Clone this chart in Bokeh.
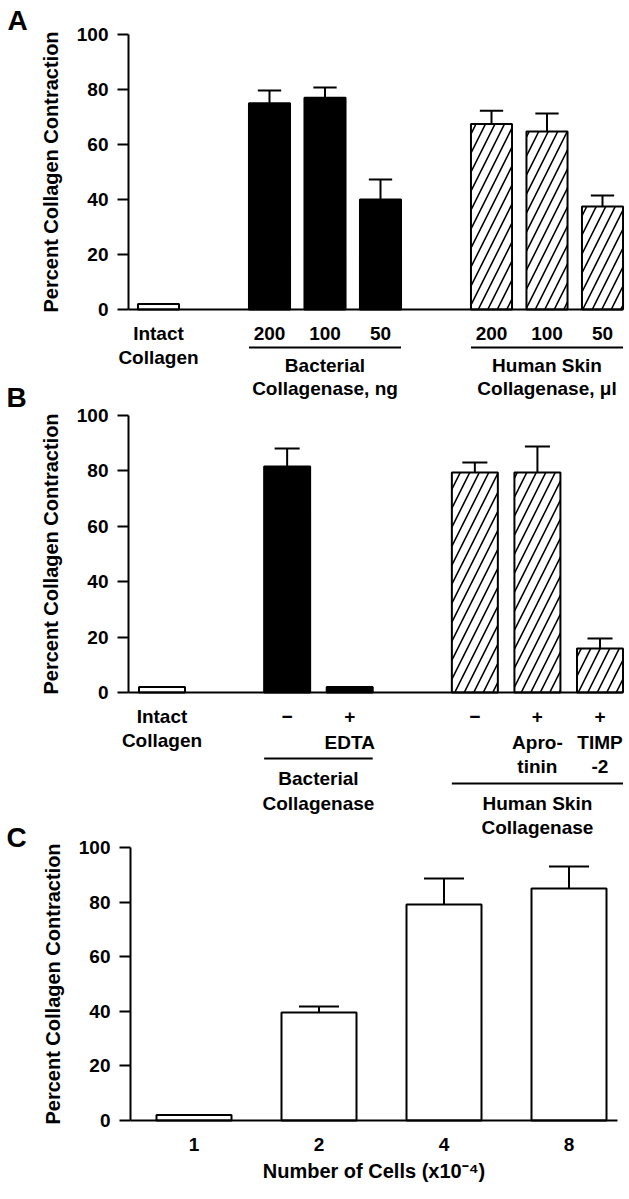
from bokeh.plotting import figure
from bokeh.layouts import column
from bokeh.models import Range1d, FixedTicker, Label, Arrow
from bokeh.embed import file_html
from bokeh.resources import INLINE

# ---------------- data ----------------
# Panel A
a_pos = [0, 2, 3, 4, 6, 7, 8]
a_ticklabels = ["Intact", "200", "100", "50", "200", "100", "50"]
a_values = [2, 75.0, 77.0, 40.0, 67.5, 64.7, 37.5]
a_errors = [0, 4.6, 3.7, 7.3, 4.8, 6.6, 4.0]
a_kind = ["open", "solid", "solid", "solid", "hatch", "hatch", "hatch"]

# Panel B
b_pos = [0, 2, 3, 5, 6, 7]
b_ticklabels = ["Intact", "\u2212", "+", "\u2212", "+", "+"]
b_values = [2, 81.6, 2, 79.4, 79.4, 15.9]
b_errors = [0, 6.5, 0, 3.6, 9.4, 3.6]
b_kind = ["open", "solid", "solid", "hatch", "hatch", "hatch"]

# Panel C
c_pos = [0, 1, 2, 3]
c_ticklabels = ["1", "2", "4", "8"]
c_values = [2, 39.6, 79.1, 85.0]
c_errors = [0, 2.2, 9.5, 8.0]
c_kind = ["open", "open", "open", "open"]

y_ticks = [0, 20, 40, 60, 80, 100]
y_title = "Percent Collagen Contraction"
c_xtitle = "Number of Cells (x10\u207b\u2074)"

FONT = "Liberation Sans"
W = 629


class Panel:
    """Page-pixel layout of one panel; maps page pixels to data units."""

    def __init__(self, fig_top, fig_bot, c0, dx, zero_py, top_py, axis_left, axis_right):
        self.fig_top, self.fig_bot = fig_top, fig_bot
        self.c0, self.dx = c0, dx
        self.zero_py = zero_py
        self.sy = (zero_py - top_py) / 100.0
        self.axis_left, self.axis_right = axis_left, axis_right

    def xd(self, px):
        return (px - self.c0) / self.dx

    def yd(self, py):
        return (self.zero_py - py) / self.sy


def make_panel(L, pos, ticklabels, values, errors, kind, barw, capw,
               tick_standoff, transparent, xtitle=None):
    p = figure(width=W, height=L.fig_bot - L.fig_top, output_backend="svg",
               toolbar_location=None, title=None,
               x_range=Range1d(L.xd(0), L.xd(W)),
               y_range=Range1d(L.yd(L.fig_bot), L.yd(L.fig_top)),
               min_border=0, min_border_left=0, min_border_right=0,
               min_border_top=0, min_border_bottom=0)
    p.outline_line_color = None
    p.grid.grid_line_color = None
    if transparent:
        p.background_fill_alpha = 0
        p.border_fill_alpha = 0

    # bars
    for k, fill, hatch in (("open", "white", None), ("solid", "black", None), ("hatch", "white", "/")):
        xs = [x for x, kk in zip(pos, kind) if kk == k]
        ys = [v for v, kk in zip(values, kind) if kk == k]
        if not xs:
            continue
        kw = {}
        if hatch:
            kw = dict(hatch_pattern=hatch, hatch_color="black", hatch_scale=19, hatch_weight=1.6)
        p.vbar(x=xs, top=ys, bottom=0, width=barw, fill_color=fill,
               line_color="black", line_width=2, **kw)

    # error bars (upper only)
    ex = [x for x, e in zip(pos, errors) if e > 0]
    ev = [v for v, e in zip(values, errors) if e > 0]
    ee = [v + e for v, e in zip(values, errors) if e > 0]
    p.segment(x0=ex, y0=ev, x1=ex, y1=ee, line_color="black", line_width=2)
    p.segment(x0=[x - capw / 2 for x in ex], y0=ee, x1=[x + capw / 2 for x in ex], y1=ee,
              line_color="black", line_width=2)

    # y axis (drawn at the left end of the baseline)
    ya = p.yaxis[0]
    ya.fixed_location = L.xd(L.axis_left)
    ya.bounds = (0, 100)
    ya.ticker = FixedTicker(ticks=y_ticks)
    ya.minor_tick_line_color = None
    ya.major_tick_in = 0
    ya.major_tick_out = 11
    ya.major_tick_line_width = 2
    ya.axis_line_width = 2
    ya.major_label_standoff = 9
    ya.major_label_text_font = FONT
    ya.major_label_text_font_style = "bold"
    ya.major_label_text_font_size = "19px"
    ya.major_label_text_color = "black"
    ya.axis_label = y_title
    ya.axis_label_text_font = FONT
    ya.axis_label_text_font_style = "bold"
    ya.axis_label_text_font_size = "20px"
    ya.axis_label_text_color = "black"
    ya.axis_label_standoff = 12

    # x axis (baseline at 0)
    xa = p.xaxis[0]
    xa.fixed_location = 0
    xa.bounds = (L.xd(L.axis_left), L.xd(L.axis_right))
    xa.ticker = FixedTicker(ticks=pos)
    xa.major_label_overrides = {x: t for x, t in zip(pos, ticklabels)}
    xa.minor_tick_line_color = None
    xa.major_tick_line_color = None
    xa.major_tick_in = 0
    xa.major_tick_out = 0
    xa.axis_line_width = 2
    xa.major_label_standoff = tick_standoff
    xa.major_label_text_font = FONT
    xa.major_label_text_font_style = "bold"
    xa.major_label_text_font_size = "19px"
    xa.major_label_text_color = "black"
    if xtitle:
        xa.axis_label = xtitle
        xa.axis_label_text_font = FONT
        xa.axis_label_text_font_style = "bold"
        xa.axis_label_text_font_size = "20px"
        xa.axis_label_text_color = "black"
        xa.axis_label_standoff = 6
    return p


def text(p, x, y, s, size="19px"):
    p.add_layout(Label(x=x, y=y, text=s, text_font=FONT, text_font_style="bold",
                       text_font_size=size, text_align="center", text_baseline="middle",
                       text_color="black"))


def uline(p, x0, x1, y):
    p.add_layout(Arrow(x_start=x0, y_start=y, x_end=x1, y_end=y, start=None, end=None,
                       line_color="black", line_width=2))


# ---------------- Panel A ----------------
LA = Panel(fig_top=0, fig_bot=403, c0=158, dx=55.5, zero_py=309, top_py=34,
           axis_left=128, axis_right=622)
wA = 0.74
pA = make_panel(LA, a_pos, a_ticklabels, a_values, a_errors, a_kind, wA, 0.42,
                tick_standoff=13, transparent=False)
text(pA, LA.xd(17), LA.yd(20), "A", "28px")
text(pA, a_pos[0], LA.yd(357), "Collagen")
uline(pA, a_pos[1] - wA / 2, a_pos[3] + wA / 2, LA.yd(347))
uline(pA, a_pos[4] - wA / 2, a_pos[6] + wA / 2, LA.yd(347))
text(pA, a_pos[2], LA.yd(365), "Bacterial")
text(pA, a_pos[2], LA.yd(388), "Collagenase, ng")
text(pA, a_pos[5], LA.yd(365), "Human Skin")
text(pA, a_pos[5], LA.yd(388), "Collagenase, \u03bcl")

# ---------------- Panel B ----------------
LB = Panel(fig_top=374, fig_bot=840, c0=161.5, dx=62.57, zero_py=692, top_py=415,
           axis_left=128, axis_right=622)
wB = 0.735
pB = make_panel(LB, b_pos, b_ticklabels, b_values, b_errors, b_kind, wB, 0.4,
                tick_standoff=13, transparent=True)
pB.margin = (LB.fig_top - LA.fig_bot, 0, 0, 0)
text(pB, LB.xd(16), LB.yd(397), "B", "28px")
text(pB, b_pos[0], LB.yd(740), "Collagen")
text(pB, b_pos[2], LB.yd(742), "EDTA")
text(pB, b_pos[4], LB.yd(742), "Apro-")
text(pB, b_pos[5], LB.yd(742), "TIMP")
text(pB, b_pos[4], LB.yd(766), "tinin")
text(pB, b_pos[5], LB.yd(766), "-2")
uline(pB, b_pos[1] - wB / 2, b_pos[2] + wB / 2, LB.yd(758))
uline(pB, b_pos[3] - wB / 2, b_pos[5] + wB / 2, LB.yd(783))
text(pB, (b_pos[1] + b_pos[2]) / 2, LB.yd(778), "Bacterial")
text(pB, (b_pos[1] + b_pos[2]) / 2, LB.yd(803), "Collagenase")
text(pB, b_pos[4], LB.yd(803), "Human Skin")
text(pB, b_pos[4], LB.yd(827), "Collagenase")

# ---------------- Panel C ----------------
LC = Panel(fig_top=814, fig_bot=1195, c0=193.5, dx=125.0, zero_py=1120, top_py=847,
           axis_left=130, axis_right=617)
pC = make_panel(LC, c_pos, c_ticklabels, c_values, c_errors, c_kind, 0.6, 0.32,
                tick_standoff=17, transparent=True, xtitle=c_xtitle)
pC.margin = (LC.fig_top - LB.fig_bot, 0, 0, 0)
text(pC, LC.xd(16), LC.yd(837), "C", "28px")

layout = column(pA, pB, pC)
open("out.html", "w").write(file_html(layout, INLINE))
